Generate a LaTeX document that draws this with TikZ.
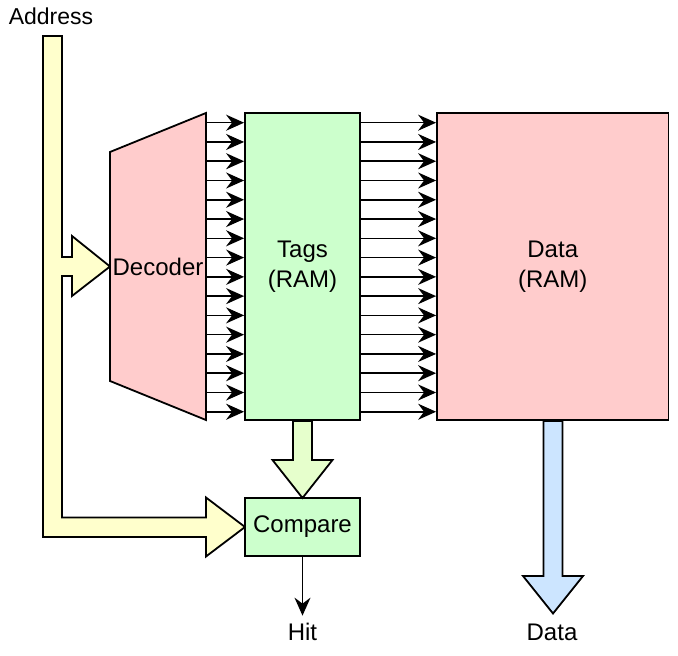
\documentclass[tikz,border=0pt]{standalone}
\usepackage{fontspec}
\setmainfont{Liberation Sans}
\usepackage{tikz}
\usetikzlibrary{calc,arrows.meta,positioning}
\definecolor{redfill}{HTML}{FFCCCC}
\definecolor{greenfill}{HTML}{CCFFCC}
\definecolor{yellowfill}{HTML}{FFFFCC}
\definecolor{limefill}{HTML}{E6FFCC}
\definecolor{bluefill}{HTML}{CCE5FF}
\begin{document}
\begin{tikzpicture}[x=0.5pt,y=-0.5pt,line width=0.9pt,font=\fontsize{12}{15}\selectfont,
                    ram/.style={draw,fill=greenfill,inner sep=0pt,align=center},
                    wire/.style={line width=0.8pt,-{Stealth[length=9pt,width=8pt,inset=3pt]}}]
                                     \useasboundingbox (0,0) rectangle (678,656);
                                     % address bus with decoder branch
                                     \draw[fill=yellowfill] (43,36)--(62,36)--(62,257)--(72,257)--(72,236)--(110,266.5)--(72,296)--(72,276)--(62,276)--(62,517.5)--(206,517.5)--(206,497.5)--(245,527)--(206,556.5)--(206,537)--(43,537)--cycle;
                                     \node[font=\fontsize{11.5}{14}\selectfont](addr)at(51,16){Address};
                                     % decoder
                                     \draw[fill=redfill] (110,152)--(206,113)--(206,420)--(110,381)--cycle;
                                     \node(dec)at(158,266.5){Decoder};
                                     \node[ram,minimum width=57.5pt,minimum height=153.5pt](tags)at(302.5,266.5){Tags\\(RAM)};
                                     \node[ram,fill=redfill,minimum width=115.75pt,minimum height=153.5pt](data)at(552.75,266.5){Data\\(RAM)};
                                     \node[ram,minimum width=57.5pt,minimum height=29pt](cmp)at(302.5,527){Compare};
                                     \foreach \i in {0,...,15}{
                                       \pgfmathsetmacro{\yy}{122.7+19.27*\i}
                                       \draw[wire] (206,\yy) -- (tags.west |- 0,\yy);
                                       \draw[wire] (tags.east |- 0,\yy) -- (data.west |- 0,\yy);
                                     }
                                     % tag to compare
                                     \draw[fill=limefill] (293,421)--(312,421)--(312,460)--(332.5,460)--(302.5,498)--(272.5,460)--(293,460)--cycle;
                                     % data out
                                     \draw[fill=bluefill] (543.5,421)--(562.5,421)--(562.5,576)--(583,576)--(553,613.5)--(523,576)--(543.5,576)--cycle;
                                     \node(hit)at(302.5,632){Hit};
                                     \node(dout)at(552,632){Data};
                                     \draw[wire](cmp.south)--(hit.north);
                                 \end{tikzpicture}
\end{document}
